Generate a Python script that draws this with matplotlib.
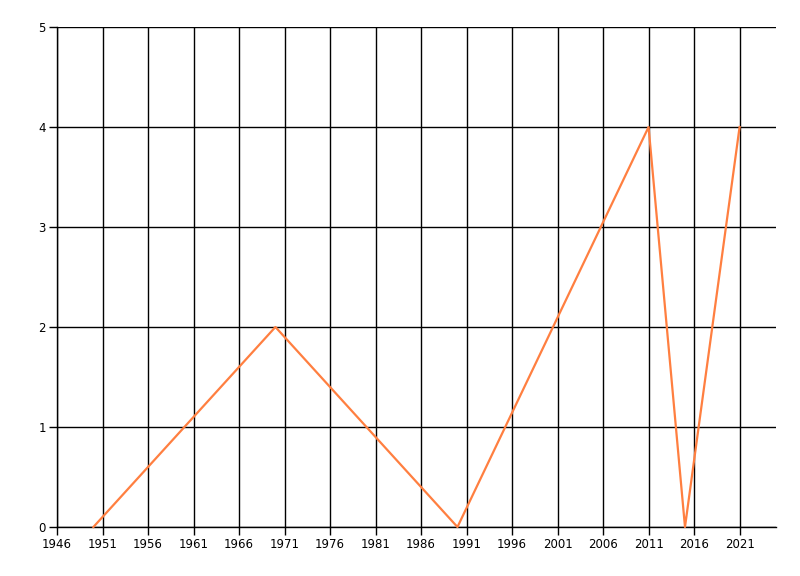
import matplotlib
matplotlib.use("Agg")
import matplotlib.pyplot as plt

years = [1950, 1970, 1990, 2011, 2015, 2021]
values = [0, 2, 0, 4, 0, 4]
xticks = list(range(1946, 2022, 5))
yticks = [0, 1, 2, 3, 4, 5]

fig = plt.figure(figsize=(8, 5.76), dpi=100)
ax = fig.add_axes([57 / 800, 1 - 527 / 576, (776 - 57) / 800, (527 - 27) / 576])

ax.plot(years, values, color="#ff7f40", lw=1.6, zorder=3, clip_on=False)

ax.set_xlim(1946, 2025)
ax.set_ylim(0, 5)
ax.set_xticks(xticks)
ax.set_yticks(yticks)
ax.grid(True, color="black", lw=1.0)
ax.set_axisbelow(True)
for s in ax.spines.values():
    s.set_visible(False)
# bottom and left lines drawn in full
ax.axhline(0, color="black", lw=1.0, clip_on=False, zorder=2)
ax.axvline(1946, color="black", lw=1.0, clip_on=False, zorder=2)
ax.tick_params(length=6, width=1.0, color="black", labelsize=8.5, pad=2)

plt.savefig("out.png", dpi=100)
